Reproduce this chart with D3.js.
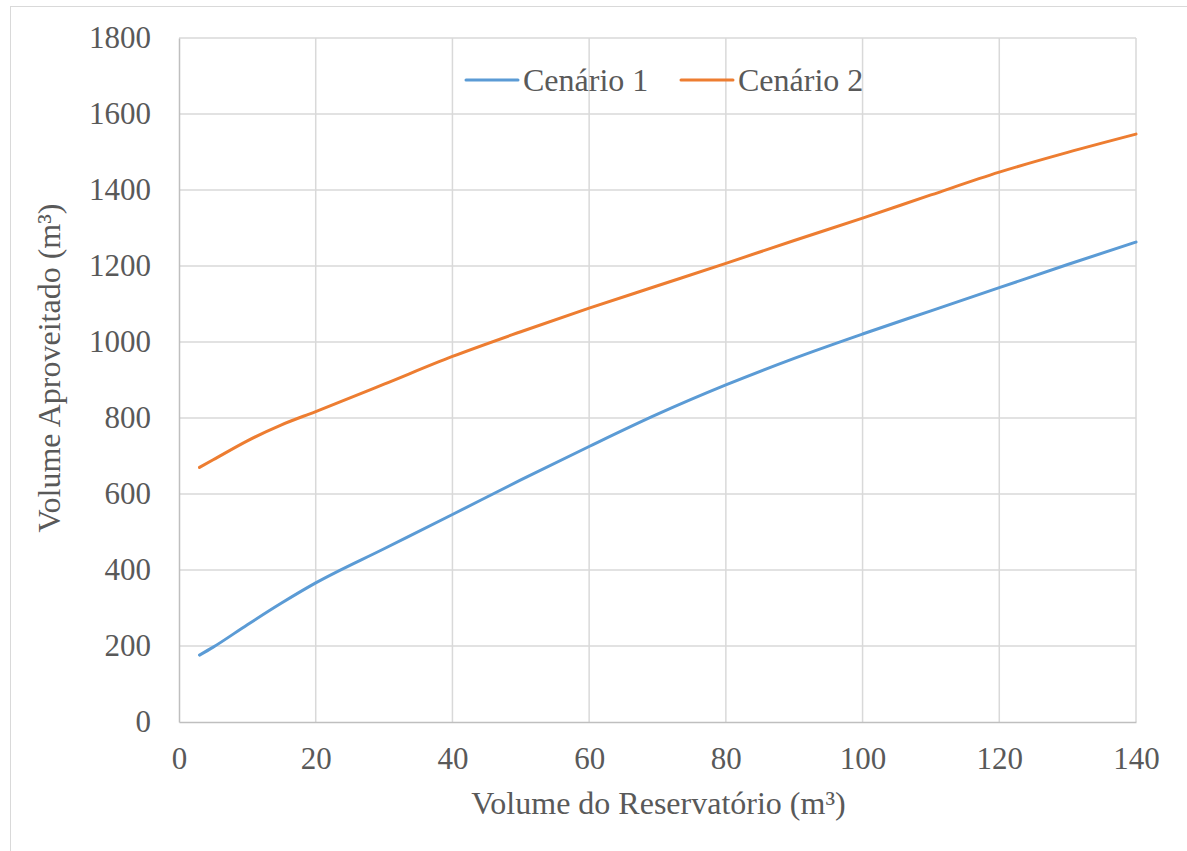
<!DOCTYPE html>
<html>
<head>
<meta charset="utf-8">
<script src="https://cdn.jsdelivr.net/npm/d3@7"></script>
<style>
  html, body { margin: 0; padding: 0; background: #ffffff; }
  svg { display: block; }
</style>
</head>
<body>
<svg id="chart" width="1187" height="851"></svg>
<script>
// Reservoir volume (m³) at which each scenario was evaluated
const reservoirVolume = [3, 5, 10, 15, 20, 30, 40, 50, 60, 70, 80, 90, 100, 110, 120, 130, 140];
// Harvested volume (m³) for each scenario
const scenario1 = [176, 197, 256, 313, 366, 456, 546, 637, 725, 810, 887, 957, 1021, 1082, 1143, 1204, 1263];
const scenario2 = [670, 690, 740, 782, 817, 889, 962, 1027, 1089, 1148, 1207, 1267, 1326, 1387, 1447, 1499, 1547];
const seriesNames = ["Cenário 1", "Cenário 2"];
const seriesColors = ["#5B9BD5", "#ED7D31"];
const xTicks = [0, 20, 40, 60, 80, 100, 120, 140];
const yTicks = [0, 200, 400, 600, 800, 1000, 1200, 1400, 1600, 1800];
const xTitle = "Volume do Reservatório (m³)";
const yTitle = "Volume Aproveitado (m³)";

const svg = d3.select("#chart");
const font = "'Liberation Serif', 'Times New Roman', serif";
const textColor = "#595959";

// Outer chart frame
svg.append("rect")
  .attr("x", 10.5).attr("y", 6.5)
  .attr("width", 1190).attr("height", 860)
  .attr("fill", "none").attr("stroke", "#d9d9d9").attr("stroke-width", 1);

const plot = { left: 179, right: 1136, top: 38, bottom: 722 };

const x = d3.scaleLinear().domain([0, 140]).range([plot.left, plot.right]);
const y = d3.scaleLinear().domain([0, 1800]).range([plot.bottom, plot.top]);

// Gridlines
const grid = svg.append("g");
grid.selectAll("line.h").data(yTicks.filter(v => v > 0)).enter().append("line")
  .attr("x1", plot.left).attr("x2", plot.right)
  .attr("y1", d => y(d)).attr("y2", d => y(d))
  .attr("stroke", "#d9d9d9").attr("stroke-width", 1.5);
grid.selectAll("line.v").data(xTicks.filter(v => v > 0)).enter().append("line")
  .attr("y1", plot.top).attr("y2", plot.bottom)
  .attr("x1", d => x(d)).attr("x2", d => x(d))
  .attr("stroke", "#d9d9d9").attr("stroke-width", 1.5);

// Axes
const fmt = d3.format("d");
const xAxis = svg.append("g")
  .attr("transform", `translate(0,${plot.bottom})`)
  .call(d3.axisBottom(x).tickValues(xTicks).tickFormat(fmt).tickSize(0).tickPadding(25));
const yAxis = svg.append("g")
  .attr("transform", `translate(${plot.left},0)`)
  .call(d3.axisLeft(y).tickValues(yTicks).tickFormat(fmt).tickSize(0).tickPadding(28));

[xAxis, yAxis].forEach(a => {
  a.select(".domain").attr("stroke", "#bfbfbf").attr("stroke-width", 1.5);
  a.selectAll("text")
    .attr("fill", textColor)
    .style("font-family", font)
    .style("font-size", "31px");
});

// Series lines
const series = [scenario1, scenario2];
const line = d3.line()
  .x((d, i) => x(reservoirVolume[i]))
  .y(d => y(d))
  .curve(d3.curveMonotoneX);

series.forEach((vals, k) => {
  svg.append("path")
    .datum(vals)
    .attr("d", line)
    .attr("fill", "none")
    .attr("stroke", seriesColors[k])
    .attr("stroke-width", 3)
    .attr("stroke-linecap", "round")
    .attr("stroke-linejoin", "round");
});

// Legend
const legendItems = [{ x: 466 }, { x: 681 }];
legendItems.forEach((item, k) => {
  const g = svg.append("g").attr("transform", `translate(${item.x},80)`);
  g.append("line")
    .attr("x1", 0).attr("x2", 52).attr("y1", 0).attr("y2", 0)
    .attr("stroke", seriesColors[k]).attr("stroke-width", 3)
    .attr("stroke-linecap", "round");
  g.append("text")
    .attr("x", 57).attr("y", 11)
    .attr("fill", textColor)
    .style("font-family", font)
    .style("font-size", "32px")
    .text(seriesNames[k]);
});

// Axis titles
svg.append("text")
  .attr("x", (plot.left + plot.right) / 2 + 1).attr("y", 814)
  .attr("text-anchor", "middle")
  .attr("fill", textColor)
  .style("font-family", font)
  .style("font-size", "32px")
  .text(xTitle);

svg.append("text")
  .attr("transform", `translate(60,368) rotate(-90)`)
  .attr("text-anchor", "middle")
  .attr("fill", textColor)
  .style("font-family", font)
  .style("font-size", "32px")
  .text(yTitle);
</script>
</body>
</html>
